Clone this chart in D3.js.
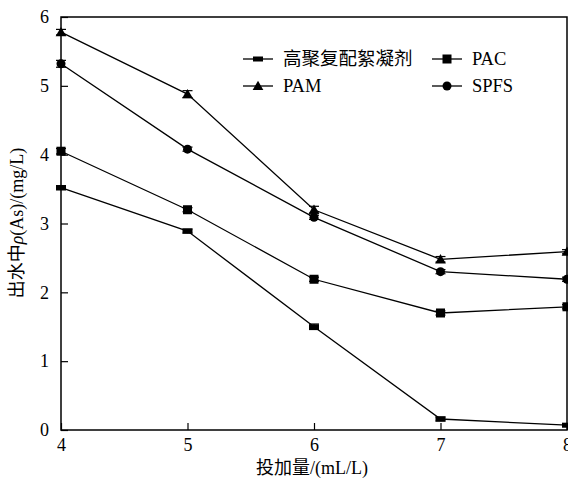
<!DOCTYPE html>
<html><head><meta charset="utf-8">
<script src="https://cdn.jsdelivr.net/npm/d3@7"></script>
<style>body{margin:0;background:#fff}svg{display:block}text{font-family:"Liberation Serif","Noto Sans CJK SC",serif;fill:#000}</style>
</head><body><svg id="c" width="568" height="479"></svg>
<script>
const doses=[4,5,6,7,8];
const seriesNames=["高聚复配絮凝剂","PAC","PAM","SPFS"];
const vHigh=[3.52,2.89,1.50,0.16,0.07];
const vPAC=[4.05,3.20,2.19,1.70,1.79];
const vPAM=[5.78,4.88,3.20,2.48,2.59];
const vSPFS=[5.32,4.08,3.09,2.30,2.19];
const errHigh=[0.03,0.03,0.04,0.03,0.02];
const errPAC=[0.04,0.03,0.03,0.03,0.03];
const errPAM=[0.04,0.05,0.05,0.04,0.03];
const errSPFS=[0.05,0.03,0.03,0.03,0.03];
const xTicks=[4,5,6,7,8];
const yTicks=[0,1,2,3,4,5,6];

const svg=d3.select("#c");
const L=61,R=567,T=17,B=430;
const x=d3.scaleLinear().domain([4,8]).range([L,R]);
const y=d3.scaleLinear().domain([0,6]).range([B,T]);

const series=[
 {name:seriesNames[0],v:vHigh,e:errHigh,m:"rect"},
 {name:seriesNames[1],v:vPAC,e:errPAC,m:"square"},
 {name:seriesNames[2],v:vPAM,e:errPAM,m:"tri"},
 {name:seriesNames[3],v:vSPFS,e:errSPFS,m:"circle"}];

svg.append("rect").attr("x",L).attr("y",T).attr("width",R-L).attr("height",B-T)
  .attr("fill","none").attr("stroke","#000").attr("stroke-width",1.5);

const xa=svg.append("g").attr("transform",`translate(0,${B})`)
  .call(d3.axisBottom(x).tickValues(xTicks).tickFormat(d3.format("d")).tickSizeInner(-7).tickSizeOuter(0));
xa.select(".domain").remove();
xa.selectAll("line").attr("stroke","#000").attr("stroke-width",1.2);
xa.selectAll("text").attr("font-size",18).attr("dy","0.71em").attr("y",8);

const ya=svg.append("g").attr("transform",`translate(${L},0)`)
  .call(d3.axisLeft(y).tickValues(yTicks).tickFormat(d3.format("d")).tickSizeInner(-7).tickSizeOuter(0));
ya.select(".domain").remove();
ya.selectAll("line").attr("stroke","#000").attr("stroke-width",1.2);
ya.selectAll("text").attr("font-size",18).attr("x",-12);

function marker(g,type,cx,cy){
  if(type==="rect") g.append("rect").attr("x",cx-5).attr("y",cy-2.5).attr("width",10).attr("height",5).attr("fill","#000");
  else if(type==="square") g.append("rect").attr("x",cx-4.5).attr("y",cy-4.5).attr("width",9).attr("height",9).attr("fill","#000");
  else if(type==="tri") g.append("path").attr("d",d3.symbol(d3.symbolTriangle,50)()).attr("transform",`translate(${cx},${cy+1})`).attr("fill","#000");
  else g.append("circle").attr("cx",cx).attr("cy",cy).attr("r",4.5).attr("fill","#000");
}

const line=d3.line().x((d,i)=>x(doses[i])).y(d=>y(d));
series.forEach(s=>{
  svg.append("path").datum(s.v).attr("d",line).attr("fill","none").attr("stroke","#000").attr("stroke-width",1.3);
  const g=svg.append("g");
  s.v.forEach((v,i)=>{
    const cx=x(doses[i]);
    g.append("line").attr("x1",cx).attr("x2",cx).attr("y1",y(v+s.e[i])).attr("y2",y(v-s.e[i])).attr("stroke","#000");
    [v+s.e[i],v-s.e[i]].forEach(w=>g.append("line").attr("x1",cx-5).attr("x2",cx+5).attr("y1",y(w)).attr("y2",y(w)).attr("stroke","#000").attr("stroke-width",1.2));
    marker(g,s.m,cx,y(v));
  });
});

const leg=[{s:series[0],x:243,y:59},{s:series[1],x:432,y:59},{s:series[2],x:243,y:86},{s:series[3],x:432,y:86}];
leg.forEach(l=>{
  const g=svg.append("g");
  g.append("line").attr("x1",l.x).attr("x2",l.x+30).attr("y1",l.y).attr("y2",l.y).attr("stroke","#000").attr("stroke-width",1.3);
  marker(g,l.s.m,l.x+15,l.y);
  g.append("text").attr("x",l.x+40).attr("y",l.y).attr("dy","0.35em").attr("font-size",18.5).text(l.s.name);
});

svg.append("text").attr("x",312).attr("y",474).attr("text-anchor","middle").attr("font-size",18).text("投加量/(mL/L)");
const yl=svg.append("text").attr("transform","translate(23,223) rotate(-90)").attr("text-anchor","middle").attr("font-size",18);
yl.append("tspan").text("出水中");
yl.append("tspan").attr("font-style","italic").text("ρ");
yl.append("tspan").text("(As)/(mg/L)");
</script></body></html>
